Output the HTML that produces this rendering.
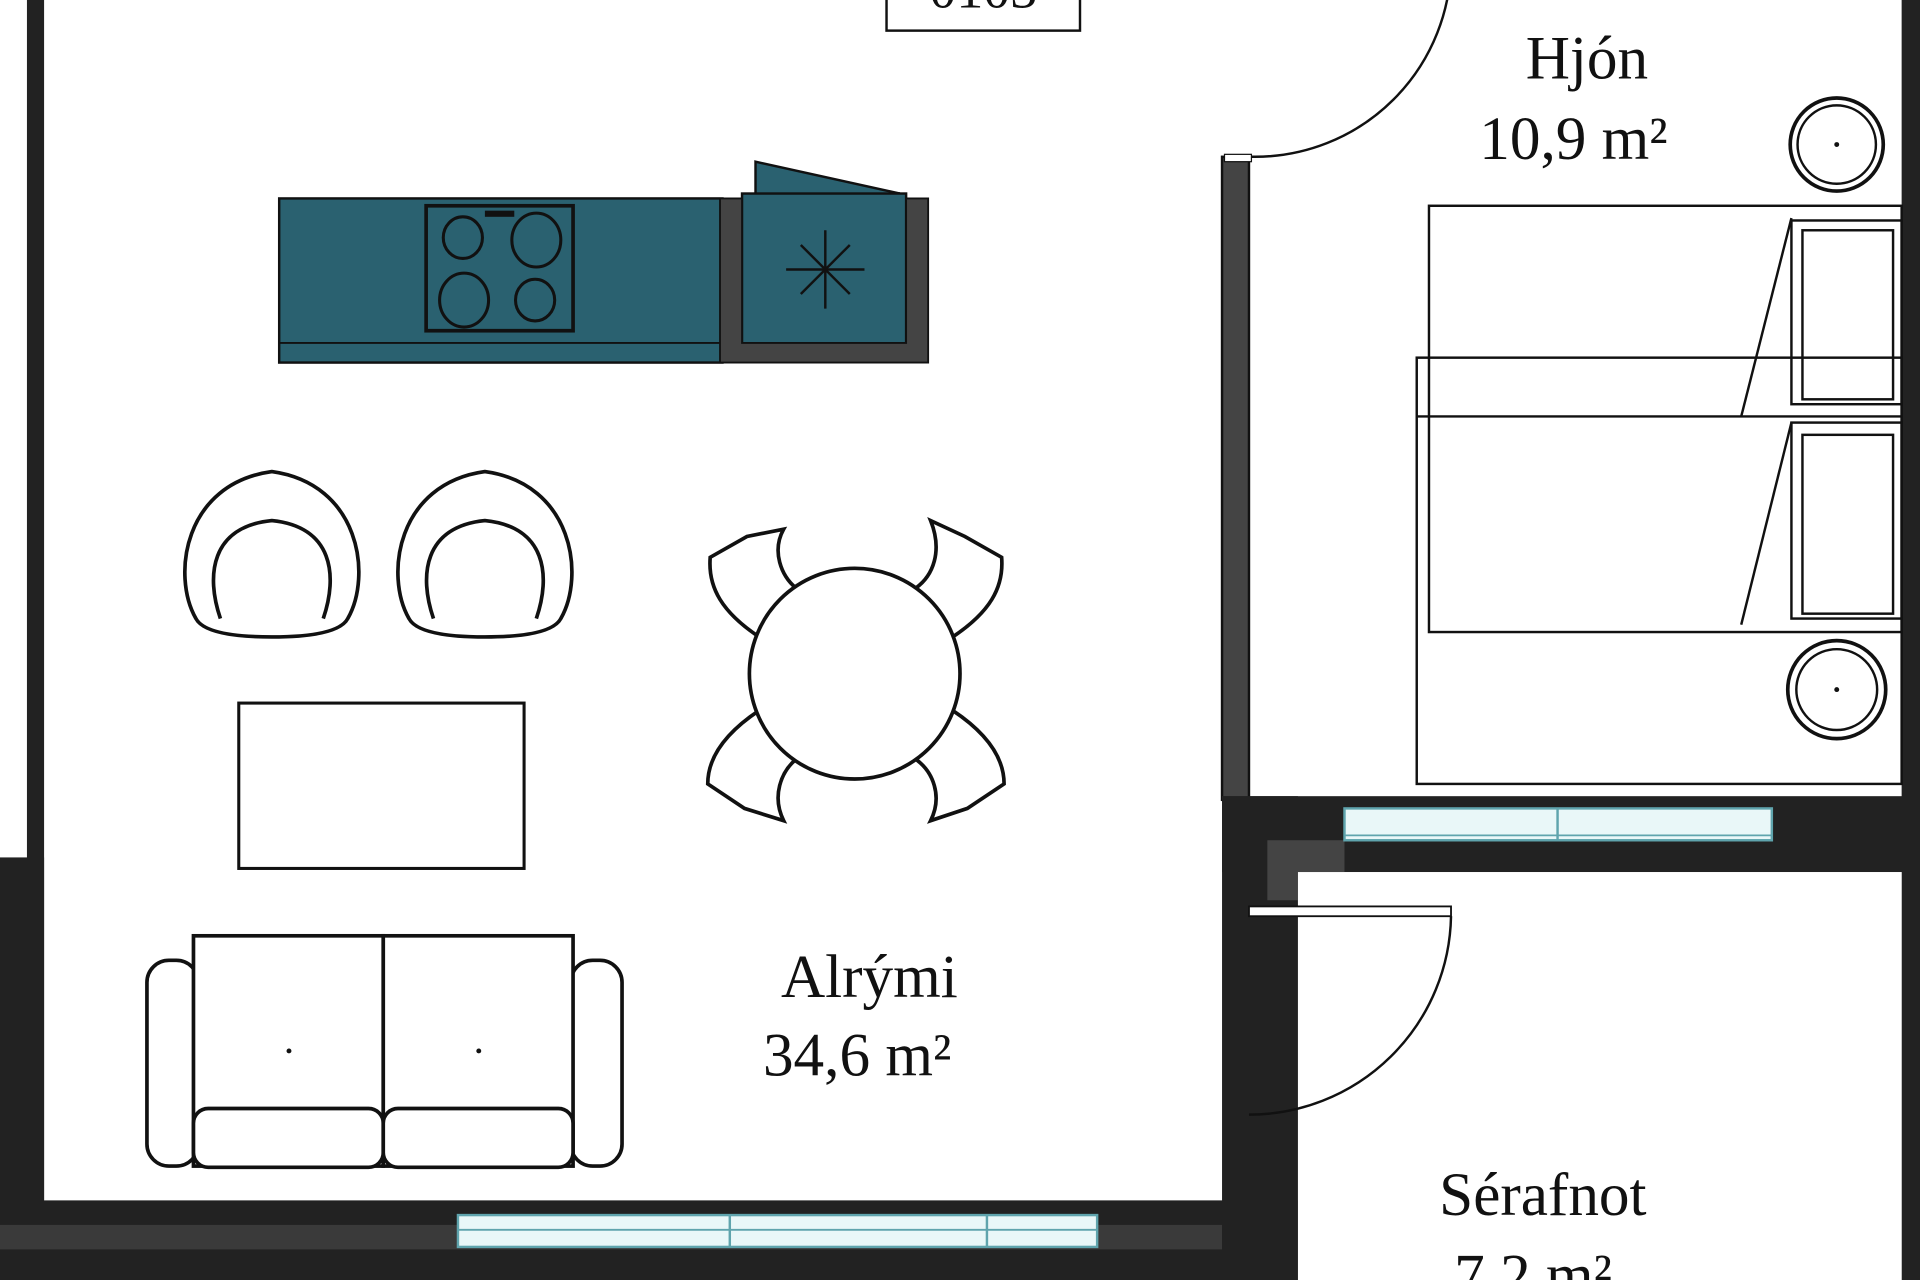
<!DOCTYPE html>
<html><head><meta charset="utf-8"><style>html,body{margin:0;padding:0;background:#fff}svg{display:block}</style></head>
<body>
<svg width="1920" height="1280" viewBox="0 0 1568 1045" preserveAspectRatio="none" xmlns="http://www.w3.org/2000/svg" font-family="Liberation Serif, serif">
<rect width="1568" height="1045" fill="#fff"/>
<!-- walls -->
<rect x="22" y="0" width="14" height="990" fill="#222"/>
<rect x="0" y="700" width="36" height="345" fill="#222"/>
<rect x="0" y="980" width="1060" height="65" fill="#222"/>
<rect x="0" y="1000" width="1060" height="20" fill="#3a3a3a"/>
<rect x="374" y="992" width="522" height="26" fill="#e9f7f8" stroke="#5fa4ad" stroke-width="2"/>
<line x1="374" y1="1004" x2="896" y2="1004" stroke="#5fa4ad" stroke-width="1.5"/>
<line x1="596" y1="992" x2="596" y2="1018" stroke="#5fa4ad" stroke-width="2"/>
<line x1="806" y1="992" x2="806" y2="1018" stroke="#5fa4ad" stroke-width="2"/>
<rect x="998" y="128" width="22" height="525" fill="#444" stroke="#111" stroke-width="2"/>
<rect x="998" y="650" width="62" height="395" fill="#222"/>
<rect x="998" y="650" width="570" height="62" fill="#222"/>
<path d="M1035 735 V686 H1098 V712 H1060 V735 Z" fill="#444"/>
<rect x="1098" y="660" width="349" height="26" fill="#e9f7f8" stroke="#5fa4ad" stroke-width="2"/>
<line x1="1098" y1="682" x2="1447" y2="682" stroke="#5fa4ad" stroke-width="1.5"/>
<line x1="1272" y1="660" x2="1272" y2="686" stroke="#5fa4ad" stroke-width="2"/>
<rect x="1553" y="0" width="15" height="1045" fill="#222"/>
<rect x="1060" y="712" width="493" height="333" fill="#fff"/>
<!-- doors -->
<path d="M1000 128 H1025 A160 160 0 0 0 1185 -32" fill="none" stroke="#111" stroke-width="2"/>
<rect x="1000" y="126" width="22" height="6" fill="#fff" stroke="#111" stroke-width="1"/>
<rect x="1020" y="740" width="165" height="8" fill="#fff" stroke="#111" stroke-width="1.5"/>
<path d="M1185 748 A165 165 0 0 1 1020 910" fill="none" stroke="#111" stroke-width="2"/>
<!-- label box -->
<rect x="724" y="-5" width="158" height="30" fill="#fff" stroke="#111" stroke-width="2"/>
<text x="803" y="6" text-anchor="middle" font-size="44" fill="#111">0103</text>
<!-- kitchen -->
<rect x="228" y="162" width="362" height="134" fill="#2a6170" stroke="#111" stroke-width="2"/>
<line x1="228" y1="280" x2="590" y2="280" stroke="#111" stroke-width="1.5"/>
<rect x="348" y="168" width="120" height="102" fill="#2a6170" stroke="#111" stroke-width="3"/>
<rect x="396" y="172" width="24" height="5" fill="#111"/>
<ellipse cx="378" cy="194" rx="16" ry="17" fill="none" stroke="#111" stroke-width="2.5"/>
<ellipse cx="438" cy="196" rx="20" ry="22" fill="none" stroke="#111" stroke-width="2.5"/>
<ellipse cx="379" cy="245" rx="20" ry="22" fill="none" stroke="#111" stroke-width="2.5"/>
<ellipse cx="437" cy="245" rx="16" ry="17" fill="none" stroke="#111" stroke-width="2.5"/>
<path d="M617 132 L735 158 L617 160 Z" fill="#2a6170" stroke="#111" stroke-width="2"/>
<rect x="606" y="158" width="134" height="124" fill="#2a6170" stroke="#111" stroke-width="2"/>
<path d="M588 162 H606 V280 H740 V162 H758 V296 H588 Z" fill="#444" stroke="#111" stroke-width="1.5"/>
<g stroke="#111" stroke-width="2"><line x1="674" y1="188" x2="674" y2="252"/><line x1="642" y1="220" x2="706" y2="220"/><line x1="654" y1="200" x2="694" y2="240"/><line x1="694" y1="200" x2="654" y2="240"/></g>
<!-- armchairs -->
<g fill="#fff" stroke="#111" stroke-width="3">
<path d="M160 505 C140 470 150 395 222 385 C294 395 304 470 284 505 Q276 520 222 520 Q168 520 160 505 Z"/>
<path d="M180 505 C168 470 172 430 222 425 C272 430 276 470 264 505"/>
<path d="M334 505 C314 470 324 395 396 385 C468 395 478 470 458 505 Q450 520 396 520 Q342 520 334 505 Z"/>
<path d="M354 505 C342 470 346 430 396 425 C446 430 450 470 438 505"/>
</g>
<!-- rug -->
<rect x="195" y="574" width="233" height="135" fill="#fff" stroke="#111" stroke-width="2.5"/>
<!-- dining chairs -->
<g fill="#fff" stroke="#111" stroke-width="3">
<path d="M620 520 C590 500 578 480 580 455 L610 438 L640 432 C630 450 638 470 650 480 Z"/>
<path d="M778 520 C808 500 820 480 818 455 L788 438 L760 425 C770 450 762 470 748 480 Z"/>
<path d="M620 580 C590 600 578 620 578 640 L608 660 L640 670 C630 650 638 630 650 620 Z"/>
<path d="M778 580 C808 600 820 620 820 640 L790 660 L760 670 C770 650 762 630 748 620 Z"/>
<circle cx="698" cy="550" r="86"/>
</g>
<!-- sofa -->
<g fill="#fff" stroke="#111" stroke-width="3">
<rect x="120" y="784" width="42" height="168" rx="18"/>
<rect x="466" y="784" width="42" height="168" rx="18"/>
<rect x="158" y="764" width="155" height="188"/>
<rect x="313" y="764" width="155" height="188"/>
<rect x="158" y="905" width="155" height="48" rx="12"/>
<rect x="313" y="905" width="155" height="48" rx="12"/>
</g>
<circle cx="236" cy="858" r="2" fill="#111"/><circle cx="391" cy="858" r="2" fill="#111"/>
<!-- bed -->
<g fill="none" stroke="#111" stroke-width="2">
<circle cx="1500" cy="118" r="38" fill="#fff" stroke-width="3"/>
<circle cx="1500" cy="118" r="32"/>
<rect x="1167" y="168" width="386" height="348" fill="#fff"/>
<rect x="1157" y="292" width="396" height="348" fill="none"/>
<line x1="1157" y1="340" x2="1553" y2="340"/>
<rect x="1463" y="180" width="90" height="150"/><rect x="1472" y="188" width="74" height="138"/>
<rect x="1463" y="345" width="90" height="160"/><rect x="1472" y="355" width="74" height="146"/>
<line x1="1463" y1="178" x2="1422" y2="340"/><line x1="1463" y1="345" x2="1422" y2="510"/>
<circle cx="1500" cy="563" r="40" fill="#fff" stroke-width="3"/>
<circle cx="1500" cy="563" r="33"/>
</g>
<circle cx="1500" cy="118" r="2" fill="#111"/><circle cx="1500" cy="563" r="2" fill="#111"/>
<!-- labels -->
<g fill="#111" text-anchor="middle" font-size="50">
<text x="1296" y="64">Hjón</text>
<text x="1285" y="130">10,9 m²</text>
<text x="710" y="814">Alrými</text>
<text x="700" y="878">34,6 m²</text>
<text x="1260" y="992">Sérafnot</text>
<text x="1252" y="1058">7,2 m²</text>
</g>
</svg>
</body></html>
